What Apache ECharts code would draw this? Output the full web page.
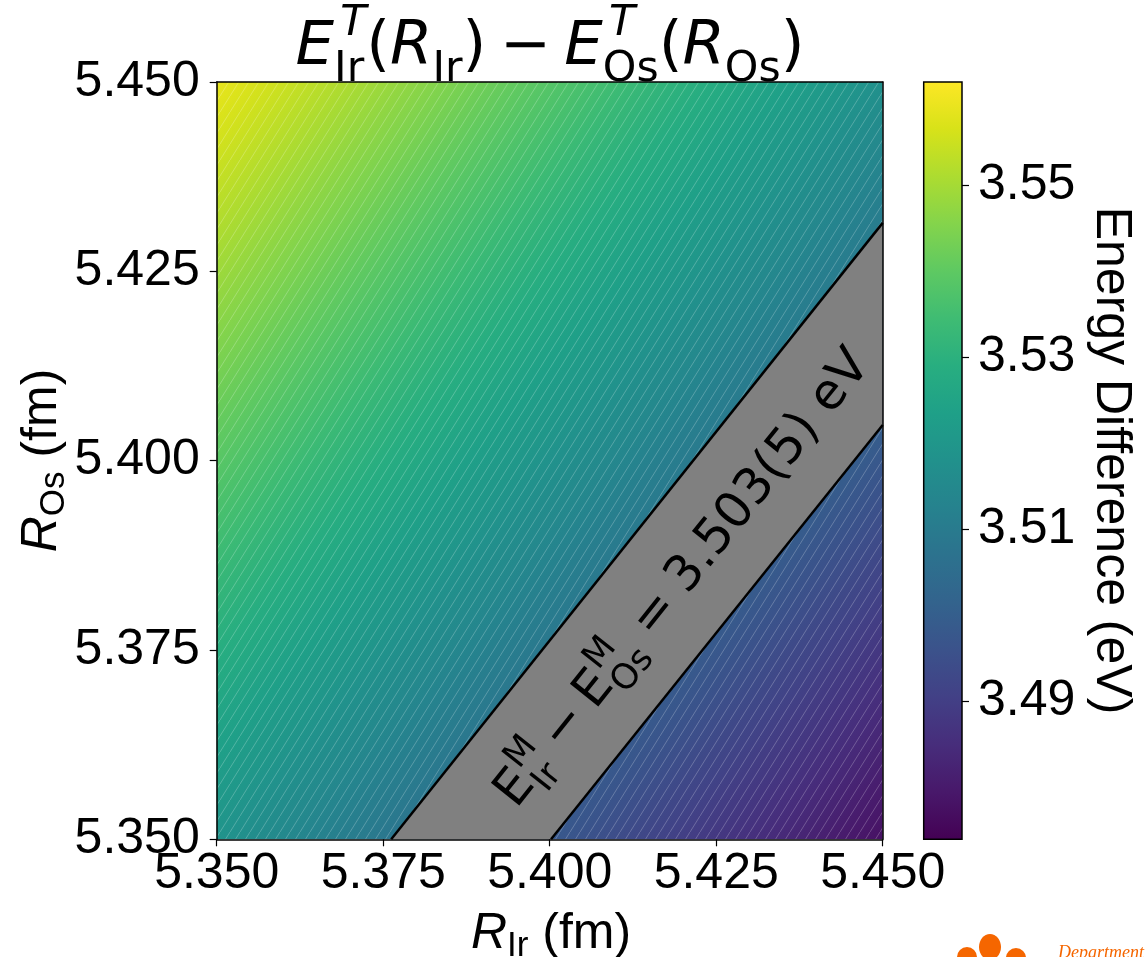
<!DOCTYPE html>
<html><head><meta charset="utf-8">
<script src="https://cdn.jsdelivr.net/npm/echarts@6.0.0/dist/echarts.min.js"></script>
<style>html,body{margin:0;padding:0;background:#fff}#c{width:1147px;height:957px}</style>
</head><body><div id="c"></div>
<script>
// ---------------- data ----------------
const xTicks = [5.350, 5.375, 5.400, 5.425, 5.450];      // R_Ir (fm)
const yTicks = [5.350, 5.375, 5.400, 5.425, 5.450];      // R_Os (fm)
const cbTicks = [3.49, 3.51, 3.53, 3.55];                // eV
const cbRange = [3.474, 3.562];                           // colour-bar limits (eV)
const fieldRIr = [5.350, 5.450];                          // corners of the map
const fieldROs = [5.350, 5.450];
const fieldE = [[3.5189, 3.4778],                         // R_Os = 5.350 : R_Ir = 5.350, 5.450
                [3.5590, 3.5170]];                        // R_Os = 5.450
const lowerContourRIr = [5.4002, 5.4500];                 // E = 3.498 eV
const lowerContourROs = [5.3500, 5.4047];
const upperContourRIr = [5.3762, 5.4500];                 // E = 3.508 eV
const upperContourROs = [5.3500, 5.4314];
const bandLabelAt = [5.4195, 5.3848];

// ---------------- colormap (viridis) ----------------
const VIR = ['#440154','#48186a','#472d7b','#424086','#3b528b','#33638d','#2c728e','#26828e',
             '#21918c','#1fa088','#28ae80','#3fbc73','#5ec962','#84d44b','#addc30','#d8e219','#fde725'];
function hex(h){return [parseInt(h.slice(1,3),16),parseInt(h.slice(3,5),16),parseInt(h.slice(5,7),16)];}
function viridis(t){
  t=Math.max(0,Math.min(1,t)); const f=t*(VIR.length-1); const i=Math.min(VIR.length-2,Math.floor(f)); const r=f-i;
  const a=hex(VIR[i]), b=hex(VIR[i+1]);
  return 'rgb('+a.map((v,k)=>Math.round(v+(b[k]-v)*r)).join(',')+')';
}

// ---------------- text helpers ----------------
const mctx = document.createElement('canvas').getContext('2d');
function fontStr(size, fam, it){return (it?'italic ':'')+size+'px '+fam;}
function measure(t,size,fam,it){mctx.font=fontStr(size,fam,it);return mctx.measureText(t).width;}
function baseOff(size,fam,it){
  mctx.font=fontStr(size,fam,it);
  mctx.textBaseline='alphabetic'; const a=mctx.measureText('H').fontBoundingBoxAscent;
  mctx.textBaseline='middle'; const b=mctx.measureText('H').fontBoundingBoxAscent;
  mctx.textBaseline='alphabetic';
  return (typeof a==='number'&&typeof b==='number')?(a-b):0.35*size;
}
function txt(t,x,yb,size,fam,it,color){
  return {type:'text', x:x, y:yb-baseOff(size,fam,it),
    style:{text:t, font:fontStr(size,fam,it), fill:color||'#000', align:'left', verticalAlign:'middle'}};
}
function mathRun(tokens,size,fam,o){
  o=Object.assign({scale:0.7,sup:0.47,sub:0.28},o||{});
  let x=0; const kids=[];
  for(const k of tokens){
    if(k.sp!==undefined){x+=k.sp*size;continue;}
    if(k.sub!==undefined||k.sup!==undefined){
      const s=size*o.scale; let w=0;
      if(k.sup){const dx=(k.supDx||0)*size; kids.push(txt(k.sup,x+dx,-o.sup*size,s,fam,k.supIt)); w=Math.max(w,dx+measure(k.sup,s,fam,k.supIt));}
      if(k.sub){const dy=(k.subDrop!==undefined?k.subDrop:o.sub)*size; kids.push(txt(k.sub,x,dy,s,fam,false)); w=Math.max(w,measure(k.sub,s,fam,false));}
      x+=w; continue;
    }
    kids.push(txt(k.t,x,0,size,fam,k.it)); x+=measure(k.t,size,fam,k.it);
  }
  return {kids:kids,width:x};
}
function centered(run,yb){run.kids.forEach(c=>{c.x-=run.width/2;c.y+=yb;});return run.kids;}

const DJ='"DejaVu Sans"', AR='"Liberation Sans", Arial, sans-serif';

// hatch pattern
const hatch=document.createElement('canvas'); hatch.width=10; hatch.height=16;
(function(){const c=hatch.getContext('2d'); c.strokeStyle='rgba(255,255,255,0.26)'; c.lineWidth=0.9;
  c.beginPath(); c.moveTo(-1,17.6); c.lineTo(11,-1.6); c.stroke();})();

// ---------------- chart ----------------
const G={left:216.7, top:82, width:666, height:757.3};
const CB={left:923.7, top:82, width:38.3, height:757.3};
const chart=echarts.init(document.getElementById('c'),null,{renderer:'canvas'});

function fieldItem(params,api){
  const p00=api.coord([fieldRIr[0],fieldROs[0]]), p10=api.coord([fieldRIr[1],fieldROs[0]]);
  const p01=api.coord([fieldRIr[0],fieldROs[1]]), p11=api.coord([fieldRIr[1],fieldROs[1]]);
  const v00=fieldE[0][0], v10=fieldE[0][1], v01=fieldE[1][0];
  const gx=(v10-v00)/(p10[0]-p00[0]), gy=(v01-v00)/(p01[1]-p00[1]);
  const val=p=>v00+gx*(p[0]-p00[0])+gy*(p[1]-p00[1]);
  const pts=[p00,p10,p11,p01];
  let lo=pts[0],hi=pts[0]; pts.forEach(p=>{if(val(p)<val(lo))lo=p; if(val(p)>val(hi))hi=p;});
  const vmin=val(lo), vmax=val(hi), g2=gx*gx+gy*gy;
  const P1=[lo[0]+gx*(vmax-vmin)/g2, lo[1]+gy*(vmax-vmin)/g2];
  const stops=[]; const N=48;
  for(let i=0;i<=N;i++){const v=vmin+(vmax-vmin)*i/N; stops.push({offset:i/N,color:viridis((v-cbRange[0])/(cbRange[1]-cbRange[0]))});}
  return {type:'group',children:[
    {type:'polygon',shape:{points:pts},style:{fill:new echarts.graphic.LinearGradient(lo[0],lo[1],P1[0],P1[1],stops,true)}},
    {type:'polygon',shape:{points:pts},style:{fill:{image:hatch,repeat:'repeat'}}}
  ]};
}
function bandItem(params,api){
  const up=upperContourRIr.map((x,i)=>api.coord([x,upperContourROs[i]]));
  const lo=lowerContourRIr.map((x,i)=>api.coord([x,lowerContourROs[i]]));
  const a1=Math.atan2(-(up[1][1]-up[0][1]),up[1][0]-up[0][0]);
  const a2=Math.atan2(-(lo[1][1]-lo[0][1]),lo[1][0]-lo[0][0]);
  const c=api.coord(bandLabelAt);
  const run=mathRun([{t:'E'},{sup:'M',sub:'Ir',supDx:0.02},{sp:0.22},{t:'\u2212'},{sp:0.22},{t:'E'},{sup:'M',sub:'Os',supDx:0.02},
                     {sp:0.28},{t:'='},{sp:0.28},{t:'3.503(5)'},{t:' eV'}],50,DJ,{sup:0.45,sub:0.28});
  return {type:'group',children:[
    {type:'polygon',shape:{points:up.concat(lo.slice().reverse())},style:{fill:'#808080'}},
    {type:'group',x:c[0],y:c[1],rotation:(a1+a2)/2,children:centered(run,0.729*50/2)}
  ]};
}
function cbItem(params,api){
  const a=api.coord([0,cbRange[0]]), b=api.coord([1,cbRange[1]]);
  const stops=VIR.map((col,i)=>({offset:i/(VIR.length-1),color:col}));
  return {type:'rect',shape:{x:a[0],y:b[1],width:b[0]-a[0],height:a[1]-b[1]},
    style:{fill:new echarts.graphic.LinearGradient(0,1,0,0,stops),stroke:'#000',lineWidth:1.5}};
}

const axLine={show:true,onZero:false,lineStyle:{color:'#000',width:1.5}};
const tick={show:true,inside:false,length:7,lineStyle:{color:'#000',width:1.2}};
const lab={color:'#000',fontSize:50,fontFamily:AR};

const title=mathRun([{t:'E',it:1},{sup:'T',supIt:1,sub:'Ir',supDx:0.1},{t:'('},{t:'R',it:1},{sub:'Ir'},{t:')'},
  {sp:0.22},{t:'\u2212'},{sp:0.22},{t:'E',it:1},{sup:'T',supIt:1,sub:'Os',supDx:0.1},{t:'('},{t:'R',it:1},{sub:'Os'},{t:')'}],61,DJ,{});
const xl=mathRun([{t:'R',it:1},{sub:'Ir'},{t:' (fm)'}],50,AR,{sub:0.15});
const yl=mathRun([{t:'R',it:1},{sub:'Os'},{t:' (fm)'}],50,AR,{sub:0.15});
const cl=mathRun([{t:'Energy Difference (eV)'}],50,AR,{});

const option={
  animation:false,
  backgroundColor:'#fff',
  grid:[Object.assign({outerBoundsMode:'none'},G),Object.assign({outerBoundsMode:'none'},CB)],
  xAxis:[
    {type:'value',gridIndex:0,position:'bottom',min:xTicks[0],max:xTicks[xTicks.length-1],z:10,
     axisLine:axLine,axisTick:Object.assign({customValues:xTicks},tick),splitLine:{show:false},
     axisLabel:Object.assign({customValues:xTicks,margin:10,formatter:v=>Number(v).toFixed(3)},lab)},
    {type:'value',gridIndex:0,position:'top',min:xTicks[0],max:xTicks[xTicks.length-1],z:10,
     axisLine:axLine,axisTick:{show:false},axisLabel:{show:false},splitLine:{show:false}},
    {type:'value',gridIndex:1,min:0,max:1,show:false,axisLine:{onZero:false}}
  ],
  yAxis:[
    {type:'value',gridIndex:0,position:'left',min:yTicks[0],max:yTicks[yTicks.length-1],z:10,
     axisLine:axLine,axisTick:Object.assign({customValues:yTicks},tick),splitLine:{show:false},
     axisLabel:Object.assign({customValues:yTicks,margin:17,formatter:v=>Number(v).toFixed(3)},lab)},
    {type:'value',gridIndex:0,position:'right',min:yTicks[0],max:yTicks[yTicks.length-1],z:10,
     axisLine:axLine,axisTick:{show:false},axisLabel:{show:false},splitLine:{show:false}},
    {type:'value',gridIndex:1,position:'right',min:cbRange[0],max:cbRange[1],z:10,
     axisLine:{show:false,onZero:false},axisTick:Object.assign({customValues:cbTicks},tick),splitLine:{show:false},
     axisLabel:Object.assign({customValues:cbTicks,margin:16,formatter:v=>Number(v).toFixed(2)},lab)}
  ],
  series:[
    {type:'custom',xAxisIndex:0,yAxisIndex:0,z:1,silent:true,renderItem:fieldItem,data:[[fieldRIr[0],fieldROs[0]]]},
    {type:'custom',xAxisIndex:0,yAxisIndex:0,z:3,silent:true,renderItem:bandItem,data:[[upperContourRIr[0],upperContourROs[0]]]},
    {type:'line',xAxisIndex:0,yAxisIndex:0,z:4,silent:true,symbol:'none',lineStyle:{color:'#000',width:2.5},
     data:lowerContourRIr.map((x,i)=>[x,lowerContourROs[i]])},
    {type:'line',xAxisIndex:0,yAxisIndex:0,z:4,silent:true,symbol:'none',lineStyle:{color:'#000',width:2.5},
     data:upperContourRIr.map((x,i)=>[x,upperContourROs[i]])},
    {type:'custom',xAxisIndex:2,yAxisIndex:2,z:2,silent:true,renderItem:cbItem,data:[[0,cbRange[0]]]}
  ],
  graphic:[
    {type:'group',x:550,y:64,children:centered(title,0)},
    {type:'group',x:551,y:948,children:centered(xl,0)},
    {type:'group',x:56,y:460.5,rotation:Math.PI/2,children:centered(yl,0)},
    {type:'group',x:1097,y:460.5,rotation:-Math.PI/2,children:centered(cl,0)},
    {type:'ellipse',shape:{cx:990,cy:947,rx:11,ry:13},style:{fill:'#f56600'}},
    {type:'circle',shape:{cx:967,cy:957,r:10},style:{fill:'#f56600'}},
    {type:'circle',shape:{cx:1016,cy:958,r:10},style:{fill:'#f56600'}},
    {type:'text',x:1058,y:944,style:{text:'Department',font:'italic 18px "Liberation Serif", serif',fill:'#f56600',verticalAlign:'top'}}
  ]
};
chart.setOption(option);
</script></body></html>
